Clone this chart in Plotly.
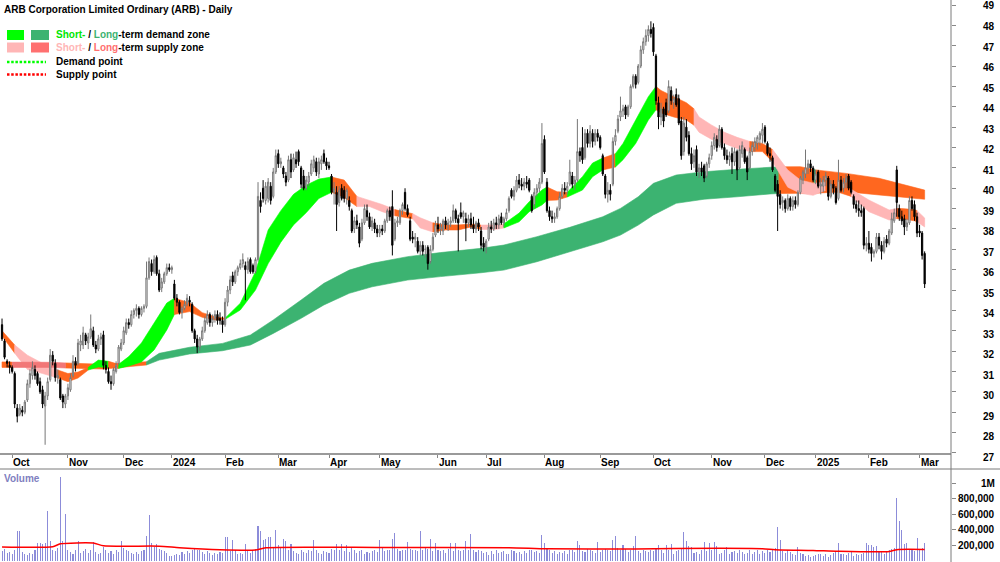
import plotly.graph_objects as go

# ------------------------------------------------------------------ data
# daily bars, index 0 = 26 Sep 2023 ... index 364 = 5 Mar 2025 (trading days)
opens = [
33.3,32.5,31.5,31.3,31.2,30.9,29.2,28.9,29.1,29.0,
29.6,30.4,30.8,31.1,30.9,30.5,30.1,29.3,29.8,30.6,
31.8,31.4,30.7,30.6,29.8,29.4,29.8,30.1,30.8,31.5,
31.4,32.3,32.3,32.8,32.4,32.7,33.0,32.3,32.1,32.6,
32.8,31.3,31.0,30.5,30.4,31.0,31.4,32.1,32.4,32.9,
33.4,33.3,33.8,34.0,34.1,33.8,34.1,34.2,35.6,36.3,
35.9,36.6,35.8,35.1,35.4,35.8,36.1,36.0,35.3,34.6,
34.4,33.9,34.1,34.3,34.5,34.3,33.0,32.6,32.2,32.6,
33.0,33.4,33.8,33.4,33.6,33.8,33.6,33.5,33.3,34.4,
35.0,35.7,35.4,35.9,36.1,36.3,36.2,36.0,36.5,36.2,
35.9,36.5,39.4,40.0,39.4,39.5,40.1,39.6,40.8,41.7,
41.2,41.0,40.6,40.4,41.4,40.9,41.4,41.8,41.0,40.6,
40.0,40.3,40.7,41.0,41.3,40.7,41.2,41.7,41.3,41.1,
40.6,39.8,39.8,39.3,40.0,39.9,39.5,39.4,38.9,38.0,
38.4,38.1,37.5,38.3,38.9,38.6,38.1,38.3,38.0,37.8,
38.0,37.9,38.4,38.9,39.1,37.5,38.3,38.3,38.9,39.8,
39.0,38.4,37.6,37.5,37.4,36.9,37.2,37.0,37.1,36.4,
37.0,37.7,38.2,38.0,37.9,38.4,38.2,38.3,38.4,38.9,
38.5,38.8,38.6,38.5,38.3,38.5,38.2,38.0,38.3,37.9,
37.3,37.1,37.5,38.1,38.0,38.3,38.2,38.6,38.3,38.5,
38.9,39.9,39.6,39.9,40.4,40.2,40.1,40.3,40.4,39.6,
39.2,39.8,40.0,40.3,42.4,40.3,38.9,38.6,38.5,38.6,
39.0,39.6,40.0,39.9,40.2,40.6,40.2,40.4,41.8,42.0,
41.5,42.7,42.2,42.7,42.3,42.7,42.5,41.6,40.6,39.7,
39.9,40.2,42.3,42.8,43.5,43.8,44.0,43.6,44.0,45.0,
45.5,45.2,46.0,46.8,47.2,47.5,47.8,47.9,46.5,44.2,
43.5,43.9,44.2,43.8,44.8,44.2,44.6,44.4,43.3,41.8,
43.0,42.6,41.7,41.3,41.9,40.8,41.0,41.1,40.6,41.2,
41.6,42.1,42.4,42.1,42.9,42.0,41.6,41.4,41.7,41.3,
41.8,41.0,41.7,41.9,41.5,41.0,41.8,42.0,42.2,42.4,
42.6,43.0,42.2,41.7,41.5,40.6,40.2,39.7,39.3,39.4,
39.0,39.5,39.1,39.4,39.2,39.8,40.4,40.7,41.0,41.2,
41.0,40.4,40.8,40.1,40.1,40.4,40.5,39.6,40.2,40.0,
39.5,40.4,40.0,40.3,40.6,40.3,39.6,39.2,39.0,38.9,
39.0,37.2,37.3,37.1,36.8,36.9,37.6,37.2,36.9,37.5,
37.3,37.8,38.4,40.9,39.0,38.6,38.5,38.1,38.3,39.4,
39.2,38.6,37.9,37.8,36.8]

highs = [
33.6,32.6,31.6,31.5,31.3,31.0,29.4,29.4,29.3,29.6,
30.6,31.1,31.5,31.3,31.0,30.7,30.3,30.0,30.7,32.1,
32.0,31.6,31.1,30.7,29.9,29.9,30.4,30.9,31.8,31.7,
32.6,32.8,33.2,32.9,32.9,33.8,33.2,32.5,32.8,32.9,
33.0,31.5,31.2,30.8,31.2,31.5,32.3,32.6,33.2,33.6,
33.6,34.0,34.1,34.3,34.2,34.2,34.3,36.4,36.6,36.5,
36.7,36.7,36.0,35.6,35.9,36.3,36.3,36.2,35.5,34.8,
34.5,34.2,34.5,34.8,34.7,34.4,33.1,32.8,32.7,33.2,
33.7,34.0,33.9,33.8,34.0,34.0,33.9,33.7,34.6,35.2,
35.7,35.9,36.0,36.2,36.5,36.8,36.4,36.6,36.6,36.3,
36.6,40.3,39.8,40.4,40.3,40.5,40.3,41.0,41.9,41.9,
41.5,41.1,40.8,41.6,41.7,41.7,41.8,41.9,41.1,40.9,
40.6,40.8,41.4,41.6,41.5,41.5,41.6,41.9,41.5,41.3,
40.7,40.3,40.1,40.1,40.2,40.1,40.0,39.6,39.0,38.6,
38.7,38.3,38.5,39.2,39.2,38.8,38.6,38.5,38.2,38.2,
38.2,38.5,39.0,39.1,39.9,38.5,38.6,39.0,39.3,40.0,
39.2,38.6,37.9,37.8,37.6,37.4,37.4,37.2,37.2,37.2,
37.8,38.4,38.6,38.3,38.5,38.6,38.5,38.6,39.2,39.0,
38.7,39.3,38.9,38.8,38.7,38.8,38.6,38.4,38.5,38.1,
37.6,37.5,38.3,38.4,38.5,38.6,38.7,38.8,38.6,39.0,
39.6,40.0,40.1,40.6,40.7,40.5,40.5,40.6,40.5,39.7,
40.0,40.2,40.5,43.2,42.6,40.5,39.1,38.9,38.8,39.1,
39.8,40.2,40.3,40.3,41.4,40.8,40.6,43.4,42.0,43.0,
42.9,42.9,43.1,42.9,42.9,42.9,42.6,41.7,40.7,40.3,
40.2,42.5,42.9,43.6,44.5,44.1,44.1,44.1,45.1,45.6,
45.6,46.1,47.0,47.4,47.8,48.0,48.2,48.1,46.6,44.5,
44.2,44.0,44.4,45.3,45.0,44.6,44.9,44.6,43.5,43.5,
43.4,42.8,42.0,41.9,42.1,41.2,41.3,41.2,41.3,41.7,
42.3,42.7,42.6,43.1,43.0,42.2,41.9,41.8,42.0,42.0,
41.9,42.1,42.3,42.0,41.6,42.0,42.3,42.5,42.6,42.8,
43.2,43.1,42.3,42.0,41.6,40.7,40.4,39.9,39.6,39.5,
39.7,39.6,39.6,39.6,39.9,40.6,40.9,41.9,41.4,41.4,
41.1,40.9,40.9,40.5,40.6,40.8,40.6,40.4,40.4,40.1,
41.4,40.6,40.5,40.7,40.7,40.4,39.7,39.4,39.4,39.2,
39.1,37.6,37.9,37.3,37.0,37.8,37.8,37.4,37.6,37.7,
38.0,38.8,39.0,41.1,39.2,38.9,38.7,38.5,39.6,39.6,
39.4,38.8,38.2,37.9,36.9]

lows = [
32.5,31.6,31.2,30.9,30.9,29.2,28.5,28.8,28.8,28.9,
29.5,30.2,30.6,30.6,30.3,29.9,29.2,27.4,29.6,30.5,
31.3,30.5,30.4,29.6,29.2,29.2,29.6,30.0,30.7,31.0,
31.3,32.0,32.1,32.3,32.1,32.6,32.2,31.9,32.0,32.3,
31.1,30.9,30.4,30.1,30.3,30.9,31.3,32.0,32.3,32.8,
33.1,33.2,33.6,33.7,33.6,33.7,33.9,34.1,35.5,35.7,
35.8,35.7,34.9,34.9,35.3,35.7,35.9,35.8,34.5,34.2,
33.8,33.6,34.0,34.2,34.2,32.9,32.4,31.9,32.0,32.5,
32.9,33.3,33.2,33.2,33.4,33.3,33.3,32.9,33.2,34.2,
34.8,35.2,35.3,35.7,36.0,36.1,34.5,35.8,35.8,35.8,
35.8,36.4,38.8,39.3,39.2,39.3,39.2,39.5,40.7,41.0,
41.0,40.5,40.1,40.3,40.5,40.8,41.0,41.1,40.0,39.9,
39.9,40.1,40.6,40.8,40.6,40.5,40.9,41.2,40.9,40.9,
39.7,39.2,37.9,39.1,39.4,39.3,39.2,38.9,37.8,37.8,
38.0,37.1,37.4,38.2,38.4,38.0,37.9,37.8,37.6,37.6,
37.7,37.8,38.3,38.4,36.7,37.4,38.1,38.2,38.7,38.9,
38.6,37.4,37.3,37.1,36.8,36.7,36.7,36.6,36.0,36.3,
36.9,37.6,37.8,37.7,37.7,38.0,37.9,38.1,38.3,38.3,
36.9,38.5,38.3,37.4,38.1,38.0,37.8,37.8,37.9,37.0,
36.9,36.8,37.4,37.8,37.9,38.0,38.0,38.2,38.1,38.4,
38.8,39.5,39.4,39.8,40.0,39.9,39.9,40.0,39.8,38.8,
39.0,39.6,39.8,40.2,40.7,38.8,38.4,38.3,38.3,38.5,
38.9,39.5,39.7,39.7,40.1,40.0,39.9,40.3,41.3,41.2,
41.4,42.0,42.0,42.0,42.1,42.3,41.9,40.6,39.5,39.3,
39.4,40.1,42.1,42.7,43.3,43.5,43.4,43.5,43.9,44.9,
44.9,45.1,45.9,46.6,47.0,47.2,47.4,46.5,44.1,42.9,
43.1,43.0,43.5,43.7,44.1,43.9,44.0,43.1,41.4,41.6,
42.3,41.6,40.9,41.0,40.6,40.5,40.6,40.3,40.5,41.0,
41.4,41.9,41.8,42.0,41.9,41.4,41.2,41.1,40.7,41.1,
40.4,40.9,41.5,41.2,40.4,40.9,41.6,41.8,41.9,42.1,
42.2,42.2,41.6,41.3,40.8,39.8,37.9,39.0,38.9,38.8,
38.9,38.9,38.9,39.0,39.1,39.7,40.2,40.5,40.7,40.8,
40.3,40.2,40.0,39.7,39.8,40.1,39.4,39.5,39.7,39.2,
39.4,39.8,39.8,40.0,39.9,39.7,39.0,38.8,38.6,38.6,
37.0,36.9,36.8,36.4,36.6,36.8,37.0,36.5,36.8,37.1,
37.2,37.7,38.3,38.6,38.4,38.2,37.7,37.9,38.2,38.9,
38.4,37.6,37.6,36.5,35.1]

closes = [
32.6,31.7,31.4,31.2,31.0,29.4,28.8,29.2,29.0,29.5,
30.4,30.9,31.2,30.8,30.4,30.0,29.4,29.8,30.5,31.8,
31.5,30.7,30.8,29.7,29.5,29.8,30.2,30.7,31.5,31.3,
32.4,32.5,32.9,32.5,32.7,33.1,32.3,32.1,32.6,32.7,
31.3,31.1,30.5,30.4,31.1,31.3,32.2,32.4,33.0,33.4,
33.3,33.8,34.0,34.1,33.8,34.1,34.2,35.6,36.4,35.9,
36.5,35.8,35.0,35.4,35.8,36.1,36.0,36.1,34.6,34.4,
33.9,34.1,34.3,34.6,34.4,33.0,32.6,32.2,32.6,33.0,
33.5,33.8,33.4,33.6,33.8,33.5,33.5,33.3,34.4,35.0,
35.5,35.4,35.9,36.1,36.3,36.5,36.0,36.4,35.9,35.9,
36.5,39.6,39.1,39.5,40.1,40.3,39.4,40.8,41.6,41.2,
41.3,40.7,40.3,41.4,40.8,41.5,41.2,41.3,40.2,40.0,
40.4,40.6,41.2,41.4,40.8,41.3,41.4,41.3,41.1,41.0,
39.8,40.0,39.2,39.9,39.5,39.5,39.9,39.1,37.9,38.4,
38.2,37.3,38.3,39.0,38.6,38.1,38.4,38.0,37.8,38.0,
37.9,38.4,38.9,38.6,37.2,38.3,38.4,38.9,39.2,39.0,
38.7,37.5,37.5,37.6,36.9,37.2,36.9,37.0,36.3,37.0,
37.6,38.2,38.0,38.1,38.4,38.2,38.3,38.4,38.9,38.5,
38.3,38.6,38.8,38.3,38.5,38.2,38.0,38.3,38.1,37.2,
37.1,37.4,38.1,38.0,38.3,38.2,38.5,38.3,38.5,38.8,
39.5,39.6,39.9,40.4,40.2,40.1,40.3,40.2,39.9,38.9,
39.8,40.0,40.3,42.2,40.8,38.9,38.6,38.5,38.6,39.0,
39.6,40.0,39.9,40.1,40.8,40.2,40.4,41.8,41.6,41.4,
42.7,42.2,42.8,42.3,42.7,42.5,42.0,40.7,39.7,39.9,
39.7,42.3,42.6,43.4,43.8,43.9,43.6,44.0,45.0,45.5,
45.1,46.0,46.8,47.2,47.5,47.8,47.6,46.7,44.3,43.5,
43.9,43.3,43.6,45.0,44.3,44.4,44.1,43.2,41.6,43.2,
42.5,41.7,41.2,41.6,40.8,41.0,40.8,40.5,41.2,41.5,
42.1,42.5,42.0,42.9,42.0,41.6,41.4,41.6,41.3,41.8,
40.9,41.9,42.1,41.3,40.8,41.8,42.1,42.3,42.5,42.7,
42.9,42.3,41.7,41.6,40.9,39.9,39.6,39.2,39.4,39.0,
39.5,39.1,39.4,39.2,39.8,40.5,40.8,41.0,41.2,41.0,
40.4,40.7,40.1,40.2,40.4,40.6,39.6,40.2,40.0,39.3,
40.4,39.9,40.3,40.5,40.0,39.8,39.2,39.0,38.9,38.8,
37.2,37.3,37.0,36.8,36.9,37.6,37.2,36.9,37.4,37.3,
37.9,38.5,38.8,39.3,38.6,38.4,38.1,38.3,39.4,39.0,
38.6,37.8,37.8,36.7,35.3]

# daily volume, thousands of shares
volume_k = [
120,150,95,110,85,140,385,385,110,90,
75,95,80,130,220,225,215,220,640,250,
140,120,160,1080,255,600,130,110,90,140,
255,100,120,150,95,130,245,110,80,100,
170,140,95,120,85,130,110,255,160,140,
120,100,90,110,80,125,130,310,587,230,
180,210,150,140,120,100,60,55,70,90,
65,110,80,120,95,140,150,140,130,110,
90,120,100,70,95,80,110,100,307,300,
120,260,130,90,100,85,210,140,95,120,
150,445,383,260,280,300,300,180,400,200,
170,280,255,140,215,120,100,90,130,110,
95,140,120,270,130,100,90,120,110,95,
150,140,215,130,215,120,200,110,180,140,
100,120,130,90,110,100,120,140,110,260,
180,120,140,130,280,355,150,120,140,130,
240,150,130,140,120,385,140,160,150,280,
120,230,140,120,130,100,150,225,120,230,
140,120,130,255,140,340,130,110,140,120,
100,110,70,120,90,130,100,110,120,80,
90,140,120,100,110,90,120,100,130,140,
110,120,100,330,220,150,130,100,120,90,
110,100,120,90,130,140,110,250,200,120,
110,150,140,120,100,245,110,130,150,140,
120,260,310,160,140,200,150,110,130,190,
315,120,100,140,120,110,130,120,150,200,
140,100,200,130,215,90,120,140,150,372,
250,190,180,100,110,90,130,240,120,220,
140,240,190,80,100,130,170,90,110,120,
100,130,110,90,100,130,80,110,140,90,
120,100,130,110,140,160,436,264,120,100,
130,110,90,70,170,100,80,60,70,50,
60,70,90,80,60,90,50,70,100,110,
230,80,90,70,100,110,60,90,70,80,
100,230,200,200,175,185,120,110,90,110,
140,150,160,802,514,390,210,230,140,130,
120,290,140,160,230]

# volume moving average (red line), read at sample bars
vol_ma_idx = [0, 20, 23, 36, 40, 62, 70, 86, 100, 104, 150, 200, 215, 250, 265, 300, 305, 320, 330, 350, 353, 364]
vol_ma_k = [175, 178, 215, 225, 190, 185, 165, 138, 135, 165, 168, 165, 150, 148, 155, 152, 140, 130, 118, 115, 140, 142]

# short-term zone (upper / lower edge) read at sample bars; state of the segment that starts there
short_zone_idx = [0, 5, 10, 16, 22, 26, 30, 34, 38, 42, 46, 50, 55, 60, 65, 68, 74, 79, 84, 88,
                  94, 100, 105, 110, 115, 120, 125, 130, 135, 140, 145, 150, 155, 162, 165, 170, 175, 180, 185, 189,
                  195, 198, 204, 208, 213, 215, 219, 223, 229, 233, 237, 242, 245, 250, 255, 258, 260, 265, 270, 273,
                  275, 280, 285, 290, 295, 300, 304, 310, 315, 320, 325, 330, 335, 342, 350, 353, 355, 360, 361, 364]
short_zone_hi = [33.0, 32.3, 31.8, 31.4, 31.07, 30.9, 30.97, 31.2, 31.56, 31.5,
                 31.35, 31.73, 32.4, 33.38, 34.36, 34.6, 34.38, 33.89, 33.69, 33.62,
                 34.35, 35.9, 37.95, 38.9, 39.7, 40.15, 40.45, 40.55, 40.4, 39.6,
                 39.4, 39.2, 38.95, 38.75, 38.55, 38.3, 38.2, 38.2, 38.24, 38.19,
                 38.2, 38.25, 38.78, 39.34, 39.91, 40.06, 39.83, 39.8, 40.57, 41.24,
                 41.48, 41.7, 42.2, 43.35, 44.5, 45.0, 44.8, 44.5, 44.2, 43.9,
                 43.5, 43.1, 42.75, 42.5, 42.3, 42.2, 41.9, 40.9, 40.4, 40.25,
                 40.3, 40.2, 39.95, 39.42, 38.93, 39.0, 39.0, 38.95, 38.9, 38.54]
short_zone_lo = [32.75, 31.9, 31.1, 30.9, 30.68, 30.5, 30.68, 31.07, 31.22, 31.2,
                 31.15, 31.27, 31.47, 32.06, 33.04, 33.8, 33.94, 33.66, 33.53, 33.56,
                 34.02, 35.0, 36.3, 37.35, 38.2, 38.8, 39.5, 39.8, 39.55, 39.1,
                 39.1, 38.85, 38.65, 38.5, 38.05, 37.85, 37.95, 37.95, 38.1, 37.97,
                 37.98, 38.05, 38.35, 38.85, 39.18, 39.4, 39.42, 39.57, 39.91, 40.57,
                 40.9, 41.04, 41.4, 42.2, 43.35, 43.85, 43.7, 43.5, 43.35, 43.1,
                 42.75, 42.4, 42.2, 41.95, 41.8, 41.8, 41.3, 40.05, 39.75, 39.65,
                 39.9, 39.8, 39.6, 38.85, 38.44, 38.5, 38.5, 38.4, 38.35, 38.1]
# D = demand, S = supply, X = supply (transition, drawn orange)
short_zone_state = ["X", "S", "S", "S", "X", "X", "X", "D", "D", "X",
                    "D", "D", "D", "D", "D", "X", "X", "X", "X", "D",
                    "D", "D", "D", "D", "D", "D", "D", "X", "X", "S",
                    "S", "S", "X", "S", "S", "X", "X", "X", "X", "S",
                    "S", "D", "D", "D", "D", "X", "X", "D", "D", "D",
                    "X", "D", "D", "D", "D", "X", "X", "X", "X", "S",
                    "S", "S", "S", "S", "X", "X", "S", "S", "S", "S",
                    "X", "X", "S", "S", "S", "X", "X", "X", "S", "S"]

# long-term zone (R = supply seen through the short-term zone)
long_zone_idx = [0, 4, 20, 25, 40, 57, 62, 74, 87, 98, 107, 118, 127, 137, 146, 160, 173, 189, 198, 211,
                 224, 237, 244, 251, 257, 266, 277, 290, 303, 306.5, 315, 320, 320.4, 321, 333, 346, 364]
long_zone_hi = [31.47, 31.46, 31.45, 31.42, 31.35, 31.48, 31.89, 32.19, 32.38, 32.79,
                33.53, 34.51, 35.33, 35.98, 36.31, 36.64, 36.84, 37.05, 37.21, 37.62,
                38.08, 38.6, 39.01, 39.58, 40.24, 40.65, 40.81, 40.93, 41.03, 41.05,
                41.06, 40.93, 40.92, 40.9, 40.73, 40.49, 39.91]
long_zone_lo = [31.2, 31.2, 31.2, 31.17, 31.12, 31.32, 31.56, 31.86, 32.02, 32.3,
                32.87, 33.61, 34.27, 34.84, 35.16, 35.49, 35.66, 35.85, 35.98, 36.39,
                36.88, 37.37, 37.7, 38.19, 38.69, 39.26, 39.46, 39.58, 39.72, 39.74,
                39.75, 39.75, 39.75, 39.76, 39.83, 39.67, 39.46]
long_zone_state = ["S", "R", "R", "S", "S",
                   "D", "D", "D", "D", "D", "D", "D", "D", "D", "D", "D", "D",
                   "D", "D", "D", "D", "D", "D", "D", "D", "D", "D", "D", "D",
                   "S", "S", "S", "D", "S", "S", "S", "S"]

month_tick_idx = [4, 26, 48, 67, 88, 109, 129, 149, 172, 191, 214, 236, 257, 280, 301, 321, 342, 362]
month_tick_text = ["Oct", "Nov", "Dec", "2024", "Feb", "Mar", "Apr", "May", "Jun", "Jul",
                   "Aug", "Sep", "Oct", "Nov", "Dec", "2025", "Feb", "Mar"]
price_ticks = list(range(27, 50))
vol_tick_vals = [200000, 400000, 600000, 800000, 1000000]
vol_tick_text = ["200,000", "400,000", "600,000", "800,000", "1M"]

title_text = "ARB Corporation Limited Ordinary (ARB) - Daily"

# ------------------------------------------------------------------ layout helpers
W, H = 1000, 562
PLOT_RIGHT = 951
PRICE_BOTTOM = 454
VOL_TOP = 469
FONT = "Liberation Sans, Arial, Helvetica, sans-serif"


def px(xp):
    return xp / W


def py(yp):
    return 1 - yp / H


SHORT_COLORS = {"D": "#00ff00", "S": "#ffb6b6", "X": "#ff671f"}
LONG_COLORS = {"D": "#3cb371", "S": "#ff671f", "R": "#f27777"}


def zone_shapes(idx, hi, lo, state, colors):
    out = []
    n = len(idx)
    start = 0
    for k in range(1, n):
        if k == n - 1 or state[k] != state[start]:
            xs = idx[start:k + 1]
            up = hi[start:k + 1]
            dn = lo[start:k + 1]
            pts = list(zip(xs, up)) + list(zip(xs[::-1], dn[::-1]))
            path = "M " + " L ".join(f"{x},{y}" for x, y in pts) + " Z"
            col = colors[state[start]]
            out.append((state[start], dict(type="path", xref="x", yref="y", path=path,
                                           fillcolor=col, line=dict(color=col, width=0.6),
                                           layer="below")))
            start = k
    return out


n = min(len(opens), len(highs), len(lows), len(closes))
bar_idx = list(range(n))

fig = go.Figure()

fig.add_trace(go.Candlestick(
    x=bar_idx, open=opens[:n], high=highs[:n], low=lows[:n], close=closes[:n],
    increasing=dict(line=dict(color="#777777", width=1), fillcolor="#ffffff"),
    decreasing=dict(line=dict(color="#000000", width=1), fillcolor="#000000"),
    whiskerwidth=0, hoverinfo="skip", showlegend=False, xaxis="x", yaxis="y"))

fig.add_trace(go.Bar(
    x=list(range(len(volume_k))), y=[v * 1000 for v in volume_k],
    marker=dict(color="#8c8cd9", line=dict(width=0)), width=0.42,
    hoverinfo="skip", showlegend=False, xaxis="x2", yaxis="y2"))

fig.add_trace(go.Scatter(
    x=vol_ma_idx, y=[v * 1000 for v in vol_ma_k], mode="lines",
    line=dict(color="#ff0000", width=1.5, shape="spline", smoothing=0.6),
    hoverinfo="skip", showlegend=False, xaxis="x2", yaxis="y2"))

long_parts = zone_shapes(long_zone_idx, long_zone_hi, long_zone_lo, long_zone_state, LONG_COLORS)
short_parts = zone_shapes(short_zone_idx, short_zone_hi, short_zone_lo, short_zone_state, SHORT_COLORS)

shapes = []
shapes += [s for st, s in long_parts if st != "R"]
shapes += [s for st, s in short_parts]
shapes += [s for st, s in long_parts if st == "R"]

# frame lines
shapes.append(dict(type="line", xref="paper", yref="paper", x0=0, x1=px(PLOT_RIGHT),
                   y0=py(PRICE_BOTTOM), y1=py(PRICE_BOTTOM), line=dict(color="#9a9a9a", width=2)))
shapes.append(dict(type="line", xref="paper", yref="paper", x0=0, x1=1,
                   y0=py(VOL_TOP), y1=py(VOL_TOP), line=dict(color="#7a7a7a", width=1)))
shapes.append(dict(type="line", xref="paper", yref="paper", x0=px(PLOT_RIGHT), x1=px(PLOT_RIGHT),
                   y0=0, y1=1, line=dict(color="#7a7a7a", width=1)))

# legend swatches
shapes.append(dict(type="rect", xref="paper", yref="paper", x0=px(7), x1=px(24), y0=py(40), y1=py(30),
                   fillcolor="#00ff00", line=dict(width=0)))
shapes.append(dict(type="rect", xref="paper", yref="paper", x0=px(31), x1=px(49), y0=py(40), y1=py(30),
                   fillcolor="#3cb371", line=dict(width=0)))
shapes.append(dict(type="rect", xref="paper", yref="paper", x0=px(7), x1=px(24), y0=py(52.5), y1=py(42.5),
                   fillcolor="#ffb6b6", line=dict(width=0)))
shapes.append(dict(type="rect", xref="paper", yref="paper", x0=px(31), x1=px(49), y0=py(52.5), y1=py(42.5),
                   fillcolor="#ff7070", line=dict(width=0)))
shapes.append(dict(type="line", xref="paper", yref="paper", x0=px(7), x1=px(46), y0=py(62), y1=py(62),
                   line=dict(color="#00ff00", width=2.5, dash="2.5px,1.7px")))
shapes.append(dict(type="line", xref="paper", yref="paper", x0=px(7), x1=px(46), y0=py(74.5), y1=py(74.5),
                   line=dict(color="#ff0000", width=2.5, dash="2.5px,1.7px")))

ann = []


def text(x, y, s, color="#000000", anchor="left", xref="paper", yref="paper", size=10):
    ann.append(dict(x=x, y=y, xref=xref, yref=yref, text=s, showarrow=False,
                    xanchor=anchor, yanchor="middle",
                    font=dict(family=FONT, size=size, color=color)))


text(px(2), py(9), f"<b>{title_text}</b>")
text(px(54), py(35), '<b><span style="color:#00e600">Short-</span> / '
     '<span style="color:#3cb371">Long</span>-term demand zone</b>')
text(px(54), py(48), '<b><span style="color:#ffb6b6">Short-</span> / '
     '<span style="color:#ff6f6f">Long</span>-term supply zone</b>')
text(px(54), py(62), "<b>Demand point</b>")
text(px(54), py(74.5), "<b>Supply point</b>")
text(px(2), py(478), "<b>Volume</b>", color="#8080c0")

for i, lab in zip(month_tick_idx, month_tick_text):
    ann.append(dict(x=i, y=py(462.5), xref="x", yref="paper", text=f"<b>{lab}</b>",
                    showarrow=False, xanchor="left", yanchor="middle", xshift=-1,
                    font=dict(family=FONT, size=10, color="#000000")))

# price labels sit on the chart's own label grid (49 at 6 px, 20.51 px per dollar)
for p in price_ticks:
    text(px(997), py(6 + (49 - p) * 20.51), f"<b>{p}</b>", anchor="right")
for v, t in zip(vol_tick_vals, vol_tick_text):
    text(px(997), v, f"<b>{t}</b>", anchor="right", yref="y2")

axis_common = dict(showgrid=False, zeroline=False, showline=False, fixedrange=True)

fig.update_layout(
    width=W, height=H,
    margin=dict(l=0, r=0, t=0, b=0, pad=0),
    paper_bgcolor="white", plot_bgcolor="white",
    showlegend=False,
    xaxis=dict(domain=[0, px(PLOT_RIGHT)], range=[-0.8, 374.4], anchor="y",
               ticks="outside", ticklen=3, tickwidth=1, tickcolor="#888888",
               tickvals=month_tick_idx, showticklabels=False,
               rangeslider=dict(visible=False), **axis_common),
    xaxis2=dict(domain=[0, px(PLOT_RIGHT)], range=[-0.8, 374.4], anchor="y2",
                ticks="", showticklabels=False, **axis_common),
    yaxis=dict(domain=[py(PRICE_BOTTOM), 1], range=[26.947, 49.246], side="right", anchor="x",
               ticks="outside", ticklen=4, tickwidth=1, tickcolor="#888888",
               tickvals=price_ticks, showticklabels=False, **axis_common),
    yaxis2=dict(domain=[0, py(VOL_TOP)], range=[-19400, 1180600], side="right", anchor="x2",
                ticks="outside", ticklen=4, tickwidth=1, tickcolor="#888888",
                tickvals=vol_tick_vals, showticklabels=False, **axis_common),
    shapes=shapes,
    annotations=ann,
    bargap=0,
)

fig.write_html("out.html", config={"displayModeBar": False, "staticPlot": True})
